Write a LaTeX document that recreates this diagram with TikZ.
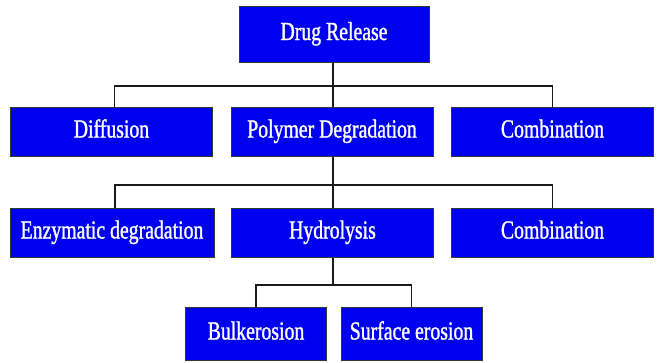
\documentclass[tikz,border=0pt]{standalone}
\usepackage{fontspec}
\setmainfont{Liberation Serif}[FakeStretch=0.76,FakeBold=1.2]
\usepackage{tikz}
\usepackage{xcolor}
\usetikzlibrary{positioning,calc}
\definecolor{boxblue}{HTML}{0000F0}
\definecolor{boxrim}{HTML}{2E3A2A}
\definecolor{wire}{HTML}{1A1A1A}
\tikzset{
  chartbox/.style={draw=boxrim,fill=boxblue,line width=1pt,
                   minimum width=202pt,minimum height=49pt,
                   inner sep=2pt,align=center,text=white,
                   text height=17pt,text depth=5pt,
                   font=\fontsize{26}{29}\selectfont},
  topbox/.style={chartbox,minimum width=190pt,minimum height=56pt},
  leafbox/.style={chartbox,minimum width=141pt,minimum height=53pt},
  wireline/.style={draw=wire,line width=1.5pt}
}

\begin{document}
\begin{tikzpicture}[x=1pt,y=-1pt]
      \useasboundingbox[fill=white] (0,0) rectangle (660,362);
      % top level
      \node[topbox] (release) at (334,34) {Drug Release};
      % second row
      \node[chartbox] (diffusion) at (111.5,131.5) {Diffusion};
      \node[chartbox] (polydeg) at (332,131.5) {Polymer Degradation};
      \node[chartbox] (combo) at (552.5,131.5) {Combination};
      % third row
      \node[chartbox,minimum width=204pt] (enzyme) at (112,232.5) {Enzymatic degradation};
      \node[chartbox] (hydro) at (332.5,232.5) {Hydrolysis};
      \node[chartbox] (combotwo) at (552.5,232.5) {Combination};
      % bottom row
      \node[leafbox] (bulk) at (256,333.5) {Bulkerosion};
      \node[leafbox] (surface) at (411.5,333.5) {Surface erosion};
      % junctions
      \coordinate (jone) at (333,86);
      \coordinate (jtwo) at (333,185);
      \coordinate (jthree) at (333,285);
      \draw[wireline] (release.south -| jone) -- (jone);
      \draw[wireline] ([xshift=3pt]diffusion.north) |- (jone) -| (combo.north);
      \draw[wireline] (jone) -- (jone |- polydeg.north);
      \draw[wireline] (polydeg.south -| jtwo) -- (jtwo);
      \draw[wireline] ([xshift=3pt]enzyme.north) |- (jtwo) -| (combotwo.north);
      \draw[wireline] (jtwo) -- (jtwo |- hydro.north);
      \draw[wireline] (hydro.south -| jthree) -- (jthree);
      \draw[wireline] (bulk.north) |- (jthree) -| (surface.north);
    \end{tikzpicture}
\end{document}
